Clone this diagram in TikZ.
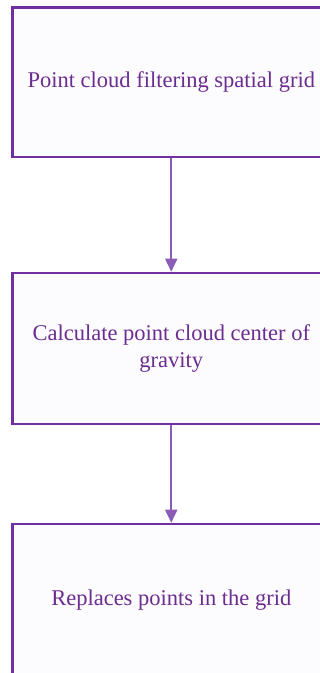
\documentclass[tikz,border=0pt]{standalone}
\usepackage{fontspec}
\setmainfont{Liberation Serif}
\usetikzlibrary{arrows.meta}
\definecolor{boxline}{HTML}{7030A0}
\definecolor{boxfill}{HTML}{FCFBFD}
\definecolor{txt}{HTML}{6B2D8F}
\definecolor{arr}{HTML}{8A5CB5}
\tikzset{
  stepbox/.style={draw=boxline, fill=boxfill, line width=2.6pt, minimum width=317.5pt, minimum height=149.5pt, inner sep=0pt, text=txt, font=\fontsize{22.5}{27}\selectfont, align=center},
  conn/.style={draw=arr, line width=1.8pt, -{Triangle[width=12pt,length=13pt]}}
}
\begin{document}
\begin{tikzpicture}[x=1pt,y=-1pt]
\useasboundingbox (0,0) rectangle (320,673);
\clip (0,0) rectangle (320,673);
\node[stepbox] (a) at (171.25,82.25) {Point cloud filtering spatial grid};
\node[stepbox, minimum height=151pt] (b) at (171.25,348.5) {Calculate point cloud center of\\gravity};
\node[stepbox, minimum height=152pt] (c) at (171.25,600) {Replaces points in the grid};
\draw[conn] (a.south) -- (b.north);
\draw[conn] (b.south) -- (c.north);
\end{tikzpicture}
\end{document}
